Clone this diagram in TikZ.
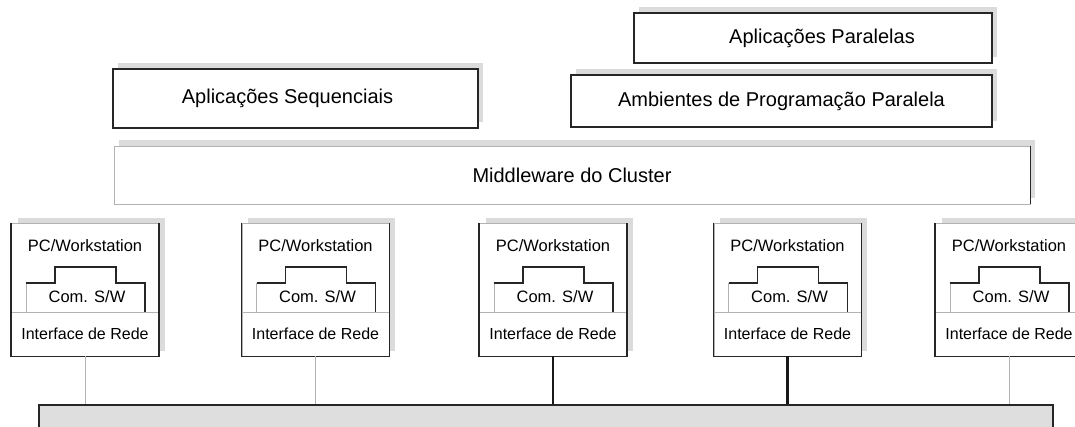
\documentclass[tikz,border=0pt]{standalone}
\usepackage{fontspec}
\setmainfont{Liberation Sans}
\usetikzlibrary{positioning,shapes,shadows}

\begin{document}
\begin{tikzpicture}[%
        x=1pt, y=-1pt,
        camada/.style={%
          rectangle,
          draw=black!85,
          line width=1.4pt,
          fill=white,
          font=\fontsize{20}{24}\selectfont,
          drop shadow={shadow xshift=5pt, shadow yshift=6pt,
            fill=black!14, opacity=1}
        },
        claro/.style={draw=black!30, line width=0.8pt},
        escuro/.style={draw=black!85, line width=1.4pt},
        pcbox/.style={%
          rectangle, claro, fill=white,
          minimum width=147pt, minimum height=133pt,
          drop shadow={shadow xshift=6pt, shadow yshift=5pt,
            fill=black!14, opacity=1}
        },
        nicbox/.style={%
          rectangle, claro,
          minimum width=147pt, minimum height=44pt,
          font=\fontsize{16}{19}\selectfont
        },
        texto/.style={font=\fontsize{16.5}{19}\selectfont, inner sep=0pt},
        fino/.style={draw=black!30, line width=0.8pt},
        grosso/.style={draw=black!90, line width=2.6pt}
      ]
      \useasboundingbox (0,0) rectangle (1075,427);

      % camadas de software
      \node[camada, minimum width=358pt, minimum height=50pt] (par) at (813,38) {\hspace{18pt}Aplicações Paralelas};
      \node[camada, minimum width=421pt, minimum height=52pt] (amb) at (781.5,101) {Ambientes de Programação Paralela};
      \node[camada, minimum width=365pt, minimum height=59pt] (seq) at (295.5,98.5) {Aplicações Sequenciais\kern16pt};
      \node[camada, claro, minimum width=916pt, minimum height=58pt] (mid) at (572,175) {Middleware do Cluster};
      \draw[escuro] (mid.north east) -- (mid.south east);

      % rede
      \node[rectangle, escuro, line width=2pt, fill=black!13, minimum width=1014pt,
        minimum height=60pt, anchor=north west] (bus) at (38,404) {};

      % estacoes
      \foreach \i/\xc/\lig in {1/85/fino,2/315.5/fino,3/553/grosso,4/787.5/grosso,5/1009/fino} {
        \node[pcbox] (pc\i) at (\xc,289.5) {};
        \node[nicbox, anchor=south] (nic\i) at (pc\i.south) {Interface de Rede};
        \node[texto] (ws\i) at ([yshift=-23pt]pc\i.north) {PC/Workstation};
        \node[texto] (sw\i) at ([shift={(2,7.5)}]pc\i.center) {Com. S/W};
        \draw[claro] ([shift={(-59,22.5)}]pc\i.center) -- ++(0,-29);
        \draw[escuro] ([shift={(-59,-6.5)}]pc\i.center) -- ++(29,0) -- ++(0,-16)
          -- ++(61,0) -- ++(0,16) -- ++(29,0) -- ++(0,29);
        \draw[escuro] (pc\i.north west) |- (pc\i.south east) -- (pc\i.north east);
        \draw[\lig] (nic\i.south) -- (nic\i.south |- bus.north);
      }
\end{tikzpicture}
\end{document}
